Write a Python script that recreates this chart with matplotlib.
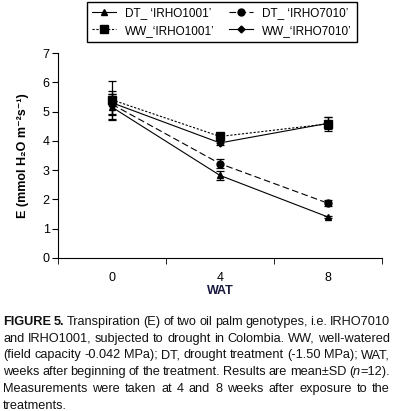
import matplotlib
matplotlib.use("Agg")
import matplotlib.pyplot as plt
from matplotlib import font_manager
from matplotlib.lines import Line2D

# police condensée si elle existe
try:
    font_manager.findfont("Liberation Sans Narrow", fallback_to_default=False)
    FAM = "Liberation Sans Narrow"
except Exception:
    FAM = "Liberation Sans"
plt.rcParams["font.family"] = [FAM, "DejaVu Sans"]

weeks = ["0", "4", "8"]
dt_1001 = [5.15, 2.82, 1.40]
dt_1001_sd = [0.45, 0.15, 0.05]
dt_7010 = [5.25, 3.22, 1.87]
dt_7010_sd = [0.35, 0.15, 0.10]
ww_1001 = [5.40, 4.15, 4.58]
ww_1001_sd = [0.65, 0.10, 0.25]
ww_7010 = [5.30, 3.93, 4.60]
ww_7010_sd = [0.40, 0.08, 0.20]

labels = ["DT_ \u2018IRHO1001\u2019", "DT_ \u2018IRHO7010\u2019",
          "WW_\u2018IRHO1001\u2019", "WW_\u2018IRHO7010\u2019"]

W, H = 393, 411
fig = plt.figure(figsize=(W / 100, H / 100), dpi=100)
ax = fig.add_axes([58 / W, 1 - 258 / H, (382 - 58) / W, (258 - 53) / H])

x = range(len(weeks))
series = [
    (dt_1001, dt_1001_sd, "^", "-", 5),
    (dt_7010, dt_7010_sd, "o", (0, (6, 3)), 5),
    (ww_1001, ww_1001_sd, "s", (0, (2, 1.5)), 6),
    (ww_7010, ww_7010_sd, "D", "-", 3.5),
]
handles = []
for (vals, sd, mk, ls, ms), lab in zip(series, labels):
    ax.errorbar(x, vals, yerr=sd, color="black", marker=mk, ms=ms, lw=0.8,
                ls=ls, capsize=3, elinewidth=0.9, capthick=0.9)
    handles.append(Line2D([], [], color="black", marker=mk, ms=ms, lw=0.8, ls=ls))

ax.set_xlim(-0.5, 2.5)
ax.set_ylim(0, 7)
ax.set_xticks(list(x))
ax.set_xticklabels(weeks)
ax.set_xticks([-0.5, 0.5, 1.5, 2.5], minor=True)
ax.tick_params(axis="x", which="major", length=0, labelsize=9, pad=10)
ax.tick_params(axis="x", which="minor", length=4, direction="out")
ax.tick_params(axis="y", labelsize=9, length=4, pad=2)
ax.set_yticks(range(8))
for s in ["top", "right"]:
    ax.spines[s].set_visible(False)
ax.set_xlabel("WAT", fontsize=9, fontweight="bold", color="#1a1a40", labelpad=1)
ax.set_ylabel("E (mmol H\u2082O m\u207b\u00b2s\u207b\u00b9)",
              fontsize=9, fontweight="bold", labelpad=10)

# ordre colonne par colonne pour obtenir DT en haut, WW en bas
order = [0, 2, 1, 3]
fig.legend([handles[i] for i in order], [labels[i] for i in order], ncol=2,
           loc="upper left", bbox_to_anchor=(87 / W, 1 - 2 / H), fontsize=8.5,
           frameon=True, fancybox=False, edgecolor="black", framealpha=1,
           handlelength=2.0, columnspacing=1.2, borderpad=0.45,
           labelspacing=0.45, handletextpad=0.8, borderaxespad=0)

# légende de la figure, justifiée mot par mot
B, R, I = "bold", "normal", "italic"
caption = [
    [[("FIGURE", B)], [("5.", B)], [("Transpiration", R)], [("(E)", R)], [("of", R)],
     [("two", R)], [("oil", R)], [("palm", R)], [("genotypes,", R)], [("i.e.", R)],
     [("IRHO7010", R)]],
    [[(w, R)] for w in "and IRHO1001, subjected to drought in Colombia. WW, well-watered".split()],
    [[(w, R)] for w in "(field capacity -0.042 MPa); DT, drought treatment (-1.50 MPa); WAT,".split()],
    [[(w, R)] for w in "weeks after beginning of the treatment. Results are mean\u00b1SD".split()]
    + [[("(", R), ("n", I), ("=12).", R)]],
    [[(w, R)] for w in "Measurements were taken at 4 and 8 weeks after exposure to the".split()],
    [[("treatments.", R)]],
]
x0, x1 = 3, 390
y0, dy = 322, 16.7
fig.canvas.draw()
rend = fig.canvas.get_renderer()


def build(size):
    rows = []
    for words in caption:
        pieces, widths = [], []
        for word in words:
            wl, tot = [], 0
            for txt, st in word:
                t = fig.text(0, 0, txt, fontsize=size,
                             fontweight="bold" if st == B else "normal",
                             fontstyle="italic" if st == I else "normal",
                             va="center", ha="left", color="#111111")
                w = t.get_window_extent(rend).width
                wl.append((t, tot))
                tot += w
            pieces.append(wl)
            widths.append(tot)
        rows.append((pieces, widths))
    return rows


# taille choisie pour que la ligne la plus longue tienne avec un espace minimal
size = 9.5
rows = build(size)
need = max(sum(w) + 2.8 * (len(w) - 1) for _, w in rows[:-1])
if need > x1 - x0:
    for pieces, _ in rows:
        for wl in pieces:
            for t, _ in wl:
                t.remove()
    size = size * (x1 - x0) / need
    rows = build(size)

for li, (pieces, widths) in enumerate(rows):
    ypix = y0 + li * dy
    if li == len(rows) - 1:
        gap = 3.0
    else:
        gap = (x1 - x0 - sum(widths)) / (len(widths) - 1)
    cx = x0
    for wl, w in zip(pieces, widths):
        for t, off in wl:
            t.set_position(((cx + off) / W, 1 - ypix / H))
        cx += w + gap

fig.savefig("out.png", dpi=100)
